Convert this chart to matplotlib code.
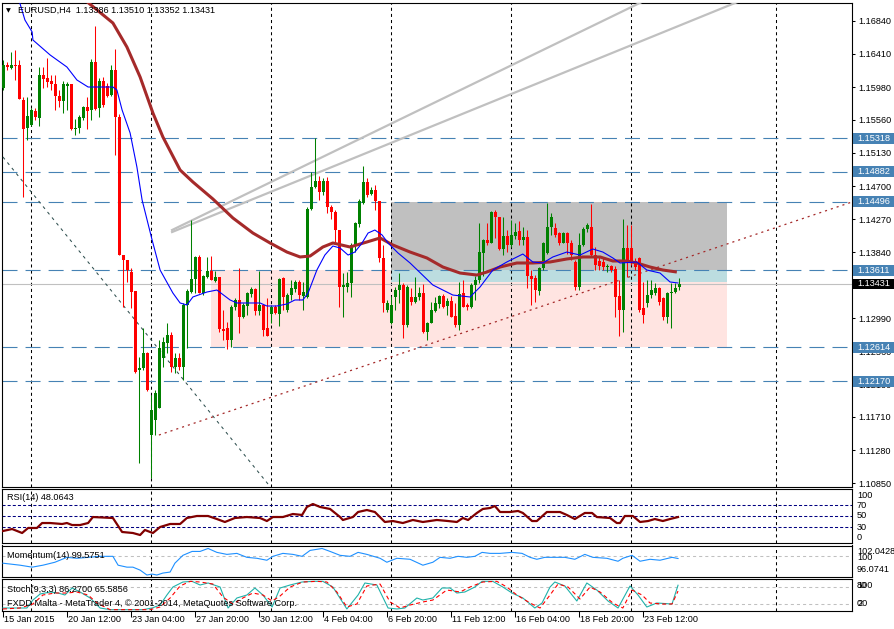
import matplotlib
matplotlib.use('Agg')
import matplotlib.pyplot as plt
from matplotlib.patches import Rectangle

plt.rcParams['font.family'] = ['Liberation Sans', 'DejaVu Sans']
plt.rcParams['font.size'] = 6.6
plt.rcParams['lines.scale_dashes'] = False

W, H = 894, 629

# EURUSD H4 candles
opens = [
    1.15969, 1.16267, 1.16228, 1.16267, 1.16267, 1.15814, 1.15451, 1.15490, 1.15671, 1.15581,
    1.16138, 1.16099, 1.16060, 1.16021, 1.15866, 1.15801, 1.15995, 1.16021, 1.15438, 1.15451,
    1.15581, 1.15723, 1.15684, 1.16306, 1.15710, 1.16060, 1.15995, 1.15879, 1.16202, 1.15594,
    1.13806, 1.13742, 1.13586, 1.13340, 1.12317, 1.12343, 1.12537, 1.11475, 1.11670, 1.11825,
    1.12472, 1.12667, 1.12770, 1.12356, 1.12472, 1.12356, 1.13159, 1.13327, 1.13496, 1.13781,
    1.13314, 1.13522, 1.13599, 1.13470, 1.13522, 1.12848, 1.12861, 1.12706, 1.13133, 1.13224,
    1.13004, 1.13146, 1.13301, 1.13366, 1.13081, 1.13159, 1.12861, 1.13042, 1.13133, 1.13042,
    1.13509, 1.13094, 1.13288, 1.13366, 1.13457, 1.13276, 1.13263, 1.14402, 1.14687, 1.14765,
    1.14622, 1.14765, 1.14428, 1.14363, 1.14130, 1.13392, 1.13392, 1.13444, 1.13936, 1.14208,
    1.14480, 1.14752, 1.14596, 1.14648, 1.14506, 1.13768, 1.13094, 1.12926, 1.13263, 1.13353,
    1.13418, 1.12900, 1.13263, 1.13198, 1.13263, 1.13314, 1.12809, 1.12926, 1.13081, 1.13172,
    1.13276, 1.13146, 1.13211, 1.13016, 1.12900, 1.13314, 1.13159, 1.13133, 1.13418, 1.13483,
    1.13832, 1.14001, 1.13962, 1.14363, 1.14299, 1.13884, 1.14053, 1.13936, 1.14053, 1.14117,
    1.14001, 1.14040, 1.13535, 1.13509, 1.13340, 1.13638, 1.13832, 1.14169, 1.14156, 1.14091,
    1.13962, 1.14091, 1.13962, 1.13716, 1.13392, 1.13936, 1.14143, 1.14169, 1.13806, 1.13729,
    1.13716, 1.13651, 1.13664, 1.13625, 1.13276, 1.13094, 1.13897, 1.13897, 1.13729, 1.13768,
    1.13120, 1.13185, 1.13288, 1.13314, 1.13379, 1.13250, 1.13004, 1.13314, 1.13327, 1.13386,
]
highs = [
    1.16332, 1.16306, 1.16436, 1.16461, 1.16332, 1.15853, 1.15853, 1.15710, 1.15710, 1.16241,
    1.16241, 1.16358, 1.16138, 1.16138, 1.15943, 1.16060, 1.16047, 1.16021, 1.15568, 1.15620,
    1.15736, 1.15853, 1.16345, 1.16772, 1.16099, 1.16112, 1.16034, 1.16267, 1.16474, 1.15633,
    1.13806, 1.13742, 1.13638, 1.13340, 1.12485, 1.12861, 1.12550, 1.11993, 1.12058, 1.12706,
    1.12745, 1.12926, 1.12809, 1.12537, 1.12537, 1.13185, 1.13366, 1.14260, 1.13793, 1.13806,
    1.13547, 1.13781, 1.13793, 1.13599, 1.13522, 1.13094, 1.12939, 1.13159, 1.13250, 1.13638,
    1.13185, 1.13327, 1.13392, 1.13379, 1.13599, 1.13159, 1.13250, 1.13159, 1.13159, 1.13509,
    1.13522, 1.13314, 1.13483, 1.13483, 1.13483, 1.13457, 1.14428, 1.14881, 1.15322, 1.14830,
    1.14804, 1.14817, 1.14454, 1.14389, 1.14130, 1.13573, 1.13586, 1.13962, 1.14234, 1.14532,
    1.14959, 1.14804, 1.14687, 1.14713, 1.14506, 1.13936, 1.13224, 1.13276, 1.13392, 1.13573,
    1.13444, 1.13418, 1.13379, 1.13522, 1.13392, 1.13431, 1.12939, 1.13198, 1.13263, 1.13288,
    1.13301, 1.13250, 1.13276, 1.13185, 1.13457, 1.13483, 1.13185, 1.13444, 1.13535, 1.14221,
    1.14014, 1.14221, 1.14376, 1.14389, 1.14299, 1.14299, 1.14130, 1.14260, 1.14221, 1.14247,
    1.14169, 1.14130, 1.13612, 1.13547, 1.13651, 1.13975, 1.14480, 1.14350, 1.14221, 1.14104,
    1.14104, 1.14104, 1.14001, 1.13742, 1.14091, 1.14169, 1.14221, 1.14467, 1.13910, 1.13781,
    1.13768, 1.13690, 1.13677, 1.13664, 1.13483, 1.14273, 1.14195, 1.14195, 1.13768, 1.13781,
    1.13457, 1.13483, 1.13483, 1.13444, 1.13392, 1.13263, 1.13327, 1.13444, 1.13444, 1.13510,
]
lows = [
    1.15943, 1.16202, 1.16215, 1.16073, 1.15827, 1.14558, 1.15296, 1.15477, 1.15555, 1.15477,
    1.15969, 1.15982, 1.15943, 1.15684, 1.15723, 1.15646, 1.15684, 1.15425, 1.15361, 1.15387,
    1.15555, 1.15438, 1.15555, 1.15684, 1.15594, 1.15723, 1.15853, 1.15866, 1.15102, 1.13806,
    1.13133, 1.13457, 1.13120, 1.12278, 1.11113, 1.12317, 1.12045, 1.10918, 1.11475, 1.11825,
    1.12356, 1.12537, 1.12291, 1.12278, 1.12317, 1.12188, 1.12602, 1.13314, 1.13314, 1.13314,
    1.13288, 1.13509, 1.13483, 1.13457, 1.12809, 1.12706, 1.12589, 1.12615, 1.13094, 1.12796,
    1.12991, 1.13029, 1.13263, 1.13029, 1.13029, 1.12757, 1.12757, 1.12926, 1.13042, 1.12887,
    1.13094, 1.13068, 1.13224, 1.13327, 1.13224, 1.13094, 1.13250, 1.14389, 1.14674, 1.14519,
    1.14584, 1.14350, 1.14273, 1.13975, 1.13133, 1.13004, 1.13327, 1.13263, 1.13845, 1.14169,
    1.14467, 1.14558, 1.14584, 1.14389, 1.13716, 1.13068, 1.13068, 1.12913, 1.13094, 1.13185,
    1.12732, 1.12874, 1.13159, 1.13185, 1.13224, 1.12796, 1.12706, 1.12926, 1.13068, 1.13120,
    1.13120, 1.13029, 1.13004, 1.12874, 1.12835, 1.13133, 1.13094, 1.13120, 1.13224, 1.13444,
    1.13535, 1.13936, 1.13962, 1.14027, 1.13871, 1.13806, 1.13845, 1.13910, 1.14014, 1.13936,
    1.13936, 1.13379, 1.13159, 1.13198, 1.13288, 1.13612, 1.13819, 1.14066, 1.14040, 1.13936,
    1.13962, 1.13819, 1.13742, 1.13353, 1.13353, 1.13923, 1.14104, 1.13781, 1.13612, 1.13612,
    1.13612, 1.13586, 1.13586, 1.13004, 1.12757, 1.12809, 1.13522, 1.13677, 1.13612, 1.13068,
    1.12926, 1.13133, 1.13250, 1.13288, 1.13159, 1.12965, 1.12926, 1.12861, 1.13314, 1.13352,
]
closes = [
    1.16267, 1.16241, 1.16267, 1.16254, 1.15827, 1.15438, 1.15607, 1.15684, 1.15594, 1.16138,
    1.16086, 1.16047, 1.16021, 1.15866, 1.15801, 1.16021, 1.16021, 1.15438, 1.15451, 1.15594,
    1.15723, 1.15671, 1.16306, 1.15697, 1.16060, 1.15749, 1.15866, 1.16202, 1.15594, 1.13806,
    1.13742, 1.13612, 1.13327, 1.12291, 1.12343, 1.12537, 1.12058, 1.11799, 1.12019, 1.12602,
    1.12680, 1.12770, 1.12356, 1.12472, 1.12356, 1.13159, 1.13340, 1.13496, 1.13781, 1.13314,
    1.13535, 1.13599, 1.13483, 1.13522, 1.12848, 1.12822, 1.12706, 1.13133, 1.13224, 1.13004,
    1.13159, 1.13314, 1.13366, 1.13081, 1.13159, 1.12835, 1.12757, 1.13133, 1.13055, 1.13496,
    1.13263, 1.13288, 1.13379, 1.13457, 1.13288, 1.13327, 1.14402, 1.14687, 1.14765, 1.14622,
    1.14765, 1.14428, 1.14363, 1.14130, 1.13392, 1.13418, 1.13444, 1.13936, 1.14221, 1.14506,
    1.14752, 1.14584, 1.14648, 1.14506, 1.13768, 1.13185, 1.13185, 1.13159, 1.13353, 1.13418,
    1.12900, 1.13392, 1.13198, 1.13263, 1.13314, 1.12809, 1.12926, 1.13094, 1.13185, 1.13276,
    1.13133, 1.13211, 1.13004, 1.12900, 1.13301, 1.13133, 1.13133, 1.13418, 1.13483, 1.13845,
    1.14001, 1.13962, 1.14363, 1.14299, 1.13884, 1.14053, 1.13936, 1.14066, 1.14104, 1.14001,
    1.14040, 1.13535, 1.13496, 1.13353, 1.13638, 1.13962, 1.14169, 1.14299, 1.14066, 1.13962,
    1.14091, 1.13962, 1.13806, 1.13392, 1.13936, 1.14143, 1.14195, 1.13806, 1.13677, 1.13664,
    1.13651, 1.13664, 1.13612, 1.13263, 1.13094, 1.13897, 1.13716, 1.13729, 1.13651, 1.13094,
    1.13029, 1.13288, 1.13353, 1.13379, 1.13198, 1.13004, 1.13314, 1.13327, 1.13379, 1.13431,
]

# moving averages (bar position, price)
ma_fast_x = [3.9, 5.4, 7.2, 7.4, 11.7, 15.9, 18.4, 21.2, 27.4, 28.4, 29.7, 31.7, 33.4, 34.7, 37.2,
             39.2, 42.4, 44.2, 45.9, 47.4, 50.9, 53.4, 56.7, 58.4, 64.2, 65.9, 68.4, 70.9, 72.9,
             74.9, 76.2, 78.4, 80.4, 82.4, 84.2, 86.2, 87.9, 89.7, 91.2, 92.9, 94.7, 96.2, 98.7,
             101.7, 107.4, 112.4, 116.7, 119.2, 122.4, 125.9, 129.9, 132.4, 134.9, 137.4, 140.9,
             144.2, 147.4, 149.9, 152.4, 154.2, 158.4, 160.9, 164.2, 166.7, 168.7]
ma_fast_y = [1.17109, 1.16850, 1.16695, 1.16591, 1.16397, 1.16241, 1.16073, 1.15982, 1.15982,
             1.15943, 1.15684, 1.15387, 1.14946, 1.14519, 1.14001, 1.13612, 1.13314, 1.13185,
             1.13159, 1.13263, 1.13327, 1.13353, 1.13224, 1.13185, 1.13185, 1.13146, 1.13146,
             1.13172, 1.13224, 1.13224, 1.13314, 1.13612, 1.13806, 1.13923, 1.13897, 1.13806,
             1.13845, 1.13962, 1.14091, 1.14130, 1.14066, 1.13962, 1.13832, 1.13703, 1.13418,
             1.13288, 1.13263, 1.13392, 1.13612, 1.13716, 1.13819, 1.13716, 1.13703, 1.13781,
             1.13845, 1.13806, 1.13884, 1.13845, 1.13768, 1.13703, 1.13716, 1.13612, 1.13573,
             1.13457, 1.13444]
ma_slow_x = [20.4, 27.4, 30.9, 34.2, 37.4, 39.9, 44.2, 47.4, 52.4, 57.4, 62.4, 66.7, 70.9, 74.2,
             76.7, 79.9, 82.4, 86.7, 90.9, 94.2, 97.4, 101.7, 105.9, 109.9, 114.2, 118.4, 120.9,
             124.2, 128.4, 132.4, 136.7, 140.9, 144.9, 149.2, 152.4, 155.9, 158.4, 161.7, 164.9, 168.4]
ma_slow_y = [1.17109, 1.16811, 1.16500, 1.16112, 1.15646, 1.15335, 1.14907, 1.14752, 1.14532,
             1.14286, 1.14091, 1.13962, 1.13845, 1.13781, 1.13793, 1.13910, 1.13962, 1.13910,
             1.13975, 1.14027, 1.13936, 1.13845, 1.13768, 1.13651, 1.13573, 1.13547, 1.13586,
             1.13651, 1.13703, 1.13703, 1.13716, 1.13755, 1.13781, 1.13781, 1.13729, 1.13729,
             1.13703, 1.13651, 1.13612, 1.13586]

# drawn objects
level_prices = [1.15318, 1.14882, 1.14496, 1.13611, 1.12614, 1.12170]
last_price = 1.13431
price_ticks = [1.16840, 1.16410, 1.15980, 1.15560, 1.15130, 1.14700, 1.14270, 1.13840,
               1.13410, 1.12990, 1.12560, 1.12130, 1.11710, 1.11280, 1.10850]
trend_gray_a = ([42.2, 161.7], [1.14130, 1.17135])
trend_gray_b = ([42.2, 185.4], [1.14104, 1.17122])
trend_black = ([-0.1, 67.4], [1.15076, 1.10763])
trend_red = ([38.9, 212.2], [1.11475, 1.14493])
box_pink = (51.9, 180.9, 1.12614, 1.13611)
box_gray = (96.9, 180.9, 1.13611, 1.14496)
box_blue = (96.9, 180.9, 1.13461, 1.13611)
grid_bars = [6.9, 36.9, 66.9, 96.9, 126.9, 156.9, 193.2]

# RSI(14)
rsi_x = [-0.1, 2.2, 4.7, 6.2, 8.4, 9.7, 11.7, 14.7, 15.9, 17.2, 19.2, 21.2, 22.4, 27.4, 29.7,
         32.4, 34.2, 35.4, 36.7, 37.4, 39.2, 41.7, 44.2, 45.9, 48.4, 51.2, 53.4, 55.4, 57.9,
         60.9, 64.2, 65.9, 67.4, 69.9, 72.4, 74.7, 75.9, 77.4, 79.2, 81.7, 84.2, 84.9, 87.4,
         88.7, 90.9, 92.9, 95.4, 97.4, 99.9, 102.4, 104.9, 108.4, 111.2, 113.4, 114.9, 116.2,
         118.4, 119.9, 121.7, 122.9, 124.2, 126.7, 128.7, 129.9, 132.2, 133.4, 135.9, 139.2,
         140.9, 142.9, 145.4, 147.2, 148.4, 151.7, 153.4, 154.2, 155.4, 157.4, 159.2, 161.2,
         162.9, 164.9, 166.7, 168.7]
rsi_v = [22.2, 25.9, 18.5, 27.8, 27.8, 37, 37, 35.2, 37, 33.3, 33.3, 37, 48.1, 46.3, 20.4,
         18.5, 14.8, 24.1, 20.4, 18.5, 29.6, 35.2, 35.2, 46.3, 50, 50, 44.4, 38.9, 46.3, 48.1,
         46.3, 40.7, 48.1, 48.1, 53.7, 51.9, 66.7, 72.2, 66.7, 63, 48.1, 42.6, 48.1, 57.4, 61.1,
         57.4, 38.9, 40.7, 37, 42.6, 38.9, 42.6, 40.7, 38.9, 46.3, 42.6, 55.6, 63, 64.8, 68.5,
         57.4, 57.4, 59.3, 55.6, 40.7, 40.7, 57.4, 57.4, 51.9, 44.4, 55.6, 55.6, 48.1, 46.3,
         37, 37, 50, 50, 38.9, 40.7, 44.4, 40.7, 44.4, 48.06]

# Momentum(14)
mom_x = [-0.1, 4.2, 7.2, 9.9, 12.9, 15.9, 18.4, 21.2, 24.2, 27.4, 28.7, 30.9, 32.4, 34.2, 35.9,
         37.2, 38.4, 39.9, 41.7, 42.9, 44.9, 47.2, 49.2, 51.2, 53.4, 55.9, 58.4, 60.9, 63.4,
         65.9, 67.4, 69.9, 72.4, 74.7, 76.7, 79.7, 81.7, 84.2, 86.7, 88.7, 90.9, 94.2, 95.9,
         98.4, 101.7, 104.9, 107.4, 109.2, 111.7, 113.7, 115.9, 117.9, 119.7, 121.7, 124.2,
         127.2, 129.7, 131.7, 133.4, 135.4, 138.4, 140.4, 142.9, 145.4, 147.4, 150.9, 153.7,
         154.9, 157.2, 159.2, 161.7, 164.2, 167.2, 168.7]
mom_v = [98.69, 98.31, 97.94, 98.31, 98.87, 99.80, 99.62, 99.80, 99.99, 99.99,
         98.31, 97.94, 97.94, 97.38, 96.45, 96.63, 96.45, 96.82, 97.01, 98.69,
         100.18, 100.92, 100.92, 101.48, 100.74, 100.36, 100.55, 99.80, 99.62, 99.25,
         99.99, 100.55, 100.36, 99.99, 101.11, 101.48, 100.92, 100.18, 99.99, 100.74,
         100.36, 99.62, 98.87, 99.62, 99.43, 98.31, 98.87, 99.80, 99.62, 99.99,
         99.80, 99.99, 100.74, 100.55, 100.55, 100.74, 100.55, 99.80, 99.43, 99.80,
         99.80, 99.80, 99.43, 100.36, 99.80, 99.62, 99.06, 99.62, 100.18, 99.06,
         99.43, 99.25, 99.80, 99.58]

# Stochastic(9,3,3)
stoch_k_x = [-0.1, 2.4, 5.9, 7.4, 9.2, 11.7, 13.7, 15.4, 17.2, 19.2, 21.7, 24.2, 26.7, 29.2,
             32.4, 34.9, 37.2, 39.2, 40.9, 42.4, 44.9, 47.2, 49.2, 51.2, 54.2, 56.2, 58.4, 60.9,
             62.9, 64.9, 67.2, 69.2, 71.7, 74.7, 77.4, 79.9, 82.4, 85.9, 88.7, 90.4, 93.4, 96.2,
             98.4, 100.4, 103.4, 104.9, 107.4, 109.7, 111.7, 113.4, 115.4, 117.9, 119.7, 122.4,
             124.9, 127.2, 129.9, 132.9, 134.7, 136.7, 137.9, 140.4, 143.4, 145.9, 148.4, 151.2,
             153.7, 156.7, 158.7, 160.9, 163.4, 167.2, 168.7]
stoch_k = [5.9, 5.9, 5.9, 34.1, 55.3, 62.4, 58.8, 51.8, 76.5, 62.4,
           41.2, 5.9, 0, 0, 0, 0, 5.9, 16.5, 51.8, 80.0,
           97.7, 100, 87.1, 94.2, 80.0, 5.9, 41.2, 51.8, 76.5, 51.8,
           9.4, 76.5, 87.1, 97.7, 100, 100, 80.0, 2.4, 51.8, 94.2,
           87.1, 5.9, 2.4, 5.9, 41.2, 34.1, 41.2, 76.5, 76.5, 58.8,
           62.4, 80.0, 100, 100, 80.0, 58.8, 41.2, 5.9, 23.5, 80.0,
           97.7, 83.6, 30.6, 94.2, 69.4, 30.6, 5.9, 83.6, 51.8, 9.4,
           23.5, 20.0, 86.27]
stoch_d_x = [-0.1, 4.2, 7.4, 9.9, 12.9, 15.9, 18.4, 21.2, 23.4, 26.7, 32.4, 36.7, 39.2, 41.7,
             44.2, 46.7, 49.2, 52.4, 54.9, 57.4, 59.9, 62.4, 64.9, 67.2, 69.2, 71.7, 74.9, 78.4,
             80.9, 83.4, 85.9, 88.4, 90.9, 94.2, 96.7, 99.2, 101.7, 104.9, 107.4, 110.9, 114.2,
             116.7, 119.9, 123.4, 125.9, 128.4, 131.7, 134.2, 136.7, 138.7, 141.2, 144.2, 146.7,
             149.2, 152.4, 154.9, 157.2, 159.7, 161.7, 164.9, 167.2, 168.7]
stoch_d = [2.4, 5.9, 20.0, 51.8, 58.8, 58.8, 62.4, 51.8, 23.5, 0,
           0, 0, 9.4, 41.2, 83.6, 100, 97.7, 90.6, 44.7, 20.0,
           41.2, 58.8, 51.8, 30.6, 48.3, 80.0, 97.7, 100, 97.7, 62.4,
           9.4, 20.0, 83.6, 90.6, 27.1, 5.9, 16.5, 27.1, 34.1, 69.4,
           62.4, 80.0, 97.7, 100, 80.0, 51.8, 23.5, 5.9, 51.8, 90.6,
           80.0, 37.7, 80.0, 62.4, 23.5, 5.9, 69.4, 51.8, 23.5, 20.0,
           20.0, 65.59]

date_bars = [0, 16, 32, 48, 64, 80, 96, 112, 128, 144, 160]
date_labels = ['15 Jan 2015', '20 Jan 12:00', '23 Jan 04:00', '27 Jan 20:00', '30 Jan 12:00',
               '4 Feb 04:00', '6 Feb 20:00', '11 Feb 12:00', '16 Feb 04:00', '18 Feb 20:00',
               '23 Feb 12:00']

fig = plt.figure(figsize=(W / 100, H / 100), dpi=100)
fig.patch.set_facecolor('white')


def add_panel(top, bottom):
    a = fig.add_axes([2 / W, 1 - bottom / H, 850 / W, (bottom - top) / H])
    a.set_xlim(-0.33, 212.2)
    a.set_xticks([])
    a.set_yticks([])
    for s in a.spines.values():
        s.set_linewidth(0.8)
        s.set_color('black')
    for g in grid_bars:
        a.axvline(g, color='black', lw=0.75, dashes=(2.2, 2.2), zorder=1)
    return a


def ftext(x, y, s, **kw):
    fig.text(x / W, 1 - y / H, s, va='center', ha='left', **kw)


# ---- main price window
ax = add_panel(3, 487)
ax.set_ylim(1.10802, 1.17070)

for (x0, x1, y0, y1), fc in [(box_pink, '#ffe4e1'), (box_gray, '#c0c0c0'), (box_blue, '#bcdde0')]:
    ax.add_patch(Rectangle((x0, y0), x1 - x0, y1 - y0, fc=fc, ec='none', zorder=0.5))

for p in level_prices:
    ax.axhline(p, color='#4682b4', lw=0.8, dashes=(10.8, 5.8), zorder=2)
ax.axhline(last_price, color='#c0c0c0', lw=0.8, zorder=2)

ax.plot(*trend_gray_a, color='#c0c0c0', lw=1.6, zorder=3)
ax.plot(*trend_gray_b, color='#c0c0c0', lw=1.6, zorder=3)
ax.plot(*trend_black, color='#2f4f4f', lw=0.75, dashes=(2.2, 2.9), zorder=3)
ax.plot(*trend_red, color='#a52a2a', lw=0.9, dashes=(1.5, 2.9), zorder=3)

bars = list(range(len(closes)))
cols = ['#008000' if c >= o else '#ff0000' for o, c in zip(opens, closes)]
ax.vlines(bars, lows, highs, colors=cols, lw=0.75, zorder=4)
bottoms = [min(o, c) for o, c in zip(opens, closes)]
heights = [max(abs(c - o), 0.00013) for o, c in zip(opens, closes)]
ax.bar(bars, heights, 0.75, bottom=bottoms, color=cols, lw=0, zorder=5)

ax.plot(ma_slow_x, ma_slow_y, color='#a52a2a', lw=2.2, zorder=6, solid_capstyle='butt')
ax.plot(ma_fast_x, ma_fast_y, color='#0000ff', lw=0.8, zorder=7)

ax.yaxis.tick_right()
ax.set_yticks(price_ticks)
ax.set_yticklabels([f'{p:.5f}' for p in price_ticks])
ax.tick_params(axis='y', direction='out', length=2.5, width=0.75, pad=2, labelsize=6.6)

tr = ax.get_yaxis_transform()
half = 0.00071
for p, fc in [(v, '#4682b4') for v in level_prices] + [(last_price, 'black')]:
    ax.add_patch(Rectangle((1.0012, p - half), 0.0483, 2 * half, transform=tr,
                           fc=fc, ec='none', clip_on=False, zorder=8))
    ax.text(1.0059, p, f'{p:.5f}', transform=tr, color='white', va='center', ha='left',
            fontsize=6.6, clip_on=False, zorder=9)

ftext(6, 10.5, '\u25bc', fontsize=4.5, family=['DejaVu Sans'])
ftext(18, 10, 'EURUSD,H4  1.13386 1.13510 1.13352 1.13431')

# ---- RSI window
ax_rsi = add_panel(489, 543)
ax_rsi.set_ylim(0, 100)
for lv in [70, 50, 30]:
    ax_rsi.axhline(lv, color='#000080', lw=0.75, dashes=(2.2, 1.5), zorder=2)
ax_rsi.plot(rsi_x, rsi_v, color='#800000', lw=1.6, zorder=4)
ftext(7, 498, 'RSI(14) 48.0643')
for s, y in [('100', 495), ('70', 506), ('50', 516), ('30', 527), ('0', 537)]:
    ftext(857, y, s)

# ---- Momentum window
ax_mom = add_panel(545.5, 577)
ax_mom.set_ylim(96.0741, 102.0428)
ax_mom.axhline(100, color='#c0c0c0', lw=0.75, dashes=(2.2, 2.2), zorder=2)
ax_mom.plot(mom_x, mom_v, color='#1e90ff', lw=0.8, zorder=4)
ftext(7, 555, 'Momentum(14) 99.5751')
for s, y in [('102.0428', 552), ('100', 557), ('96.0741', 569)]:
    ftext(857, y, s)

# ---- Stochastic window
ax_st = add_panel(579, 611)
ax_st.set_ylim(-4.7, 108.3)
for lv in [80, 20]:
    ax_st.axhline(lv, color='#c0c0c0', lw=0.75, dashes=(2.2, 2.2), zorder=2)
ax_st.plot(stoch_k_x, stoch_k, color='#20b2aa', lw=0.8, zorder=4)
ax_st.plot(stoch_d_x, stoch_d, color='#ff0000', lw=0.8, dashes=(2.9, 2.2), zorder=4)
ftext(7, 589, 'Stoch(9,3,3) 86.2700 65.5856')
ftext(7, 604, 'FXDD Malta - MetaTrader 4, \u00a9 2001-2014, MetaQuotes Software Corp.')
for s, y in [('80', 586), ('100', 586), ('20', 604), ('0', 604)]:
    ftext(857, y, s)

ax_st.set_xticks(date_bars)
ax_st.set_xticklabels([''] * len(date_bars))
ax_st.tick_params(axis='x', direction='out', length=4.3, width=0.75)
xtr = ax_st.get_xaxis_transform()
for b, s in zip(date_bars, date_labels):
    ax_st.text(b + 0.1, -(620 - 611) / 32, s, transform=xtr, va='center', ha='left',
               fontsize=6.6, clip_on=False)

fig.savefig('out.png', dpi=100)
